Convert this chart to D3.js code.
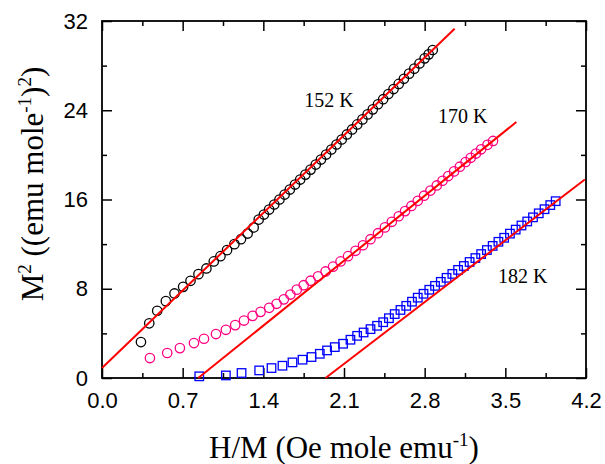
<!DOCTYPE html>
<html>
<head>
<meta charset="utf-8">
<script src="https://cdn.jsdelivr.net/npm/d3@7"></script>
<style>
  body { margin: 0; background: #fff; }
  svg { display: block; }
</style>
</head>
<body>
<div id="chart"></div>
<script>
// H/M values and M^2 values, one pair of arrays per temperature
const hm152 = [0.338, 0.41, 0.479, 0.554, 0.629, 0.704, 0.768, 0.837, 0.906, 0.970, 1.028, 1.085, 1.149, 1.206, 1.264, 1.316,
  1.36, 1.405, 1.45, 1.495, 1.54, 1.585, 1.63, 1.675, 1.72, 1.765, 1.81, 1.855, 1.9, 1.945, 1.99, 2.035, 2.08, 2.125,
  2.17, 2.215, 2.26, 2.305, 2.35, 2.395, 2.44, 2.485, 2.53, 2.575, 2.62, 2.665, 2.71, 2.755, 2.80, 2.835, 2.87];
const m2_152 = [3.22, 4.90, 6.03, 6.89, 7.58, 8.17, 8.71, 9.31, 9.82, 10.45, 10.92, 11.46, 12.00, 12.44, 12.95, 13.49,
  14.2, 14.65, 15.1, 15.55, 16.0, 16.44, 16.89, 17.34, 17.79, 18.23, 18.68, 19.13, 19.58, 20.03, 20.48, 20.93, 21.38, 21.83,
  22.28, 22.73, 23.18, 23.63, 24.08, 24.54, 24.99, 25.45, 25.9, 26.36, 26.82, 27.28, 27.73, 28.19, 28.65, 29.01, 29.4];

const hm170 = [0.416, 0.566, 0.676, 0.798, 0.885, 0.989, 1.075, 1.156, 1.232, 1.307, 1.376, 1.451, 1.515, 1.578, 1.635,
  1.69, 1.75, 1.81, 1.875, 1.94, 2.005, 2.07, 2.135, 2.2, 2.265, 2.33, 2.395, 2.455, 2.515, 2.575, 2.63, 2.685, 2.74,
  2.795, 2.85, 2.905, 2.955, 3.005, 3.055, 3.105, 3.155, 3.2, 3.245, 3.29, 3.345, 3.393];
const m2_170 = [1.79, 2.24, 2.68, 3.13, 3.52, 3.94, 4.32, 4.74, 5.15, 5.57, 5.93, 6.29, 6.65, 7.05, 7.48,
  7.92, 8.32, 8.72, 9.12, 9.55, 9.98, 10.45, 10.92, 11.4, 11.9, 12.44, 12.98, 13.5, 14.0, 14.5, 14.96, 15.42, 15.88,
  16.34, 16.8, 17.26, 17.68, 18.1, 18.52, 18.94, 19.36, 19.74, 20.12, 20.5, 20.9, 21.25];

const hm182 = [0.844, 1.075, 1.211, 1.364, 1.471, 1.566, 1.653, 1.74, 1.818, 1.89, 1.953, 2.02, 2.092, 2.156, 2.214, 2.27,
  2.33, 2.387, 2.44, 2.49, 2.54, 2.59, 2.64, 2.69, 2.74, 2.79, 2.84, 2.89, 2.94, 2.99, 3.04, 3.09, 3.14, 3.19, 3.24,
  3.29, 3.34, 3.39, 3.44, 3.49, 3.54, 3.59, 3.64, 3.69, 3.74, 3.79, 3.84, 3.89, 3.937];
const m2_182 = [0.15, 0.23, 0.45, 0.68, 0.89, 1.1, 1.4, 1.64, 1.88, 2.17, 2.47, 2.77, 3.07, 3.43, 3.78, 4.08,
  4.38, 4.68, 5.0, 5.36, 5.73, 6.1, 6.47, 6.84, 7.20, 7.55, 7.91, 8.26, 8.62, 8.98, 9.33, 9.69, 10.04, 10.40, 10.75,
  11.11, 11.47, 11.84, 12.21, 12.57, 12.94, 13.30, 13.67, 14.03, 14.40, 14.76, 15.13, 15.50, 15.85];

// linear fits: [start, end] points
const fitX152 = [0, 3.06], fitY152 = [0.89, 31.3];
const fitX170 = [0.835, 3.596], fitY170 = [0, 22.95];
const fitX182 = [1.94, 4.19], fitY182 = [0, 17.8];

const labels = ["152 K", "170 K", "182 K"];
const labelX = [1.97, 3.13, 3.65];
const labelY = [24.3, 22.9, 8.5];

const xTicks = [0.0, 0.7, 1.4, 2.1, 2.8, 3.5, 4.2];
const yTicks = [0, 8, 16, 24, 32];

const width = 605, height = 464;
const marginLeft = 102, marginRight = 19, marginTop = 21, marginBottom = 86;

const svg = d3.select("#chart").append("svg")
  .attr("width", width)
  .attr("height", height);

const x = d3.scaleLinear().domain([0, 4.2]).range([marginLeft, width - marginRight]);
const y = d3.scaleLinear().domain([0, 32]).range([height - marginBottom, marginTop]);

const tickFont = "'Liberation Sans', Arial, sans-serif";
const serif = "'Liberation Serif', 'Times New Roman', serif";

// minor ticks halfway between majors
const xMinor = d3.range(0.35, 4.2, 0.7);
const yMinor = d3.range(4, 32, 8);

function styleAxis(g) {
  g.select(".domain").remove();
  g.selectAll("line").attr("stroke", "#000").attr("stroke-width", 1.5);
  g.selectAll("text").attr("font-family", tickFont).attr("font-size", 22).attr("fill", "#000");
}

// bottom axis
svg.append("g")
  .attr("transform", `translate(0,${y(0)})`)
  .call(d3.axisBottom(x).tickValues(xTicks).tickFormat(d3.format(".1f")).tickSizeInner(-10).tickSizeOuter(0).tickPadding(14))
  .call(styleAxis);
svg.append("g")
  .attr("transform", `translate(0,${y(0)})`)
  .call(d3.axisBottom(x).tickValues(xMinor).tickFormat("").tickSizeInner(-5).tickSizeOuter(0))
  .call(styleAxis);
// top axis
svg.append("g")
  .attr("transform", `translate(0,${y(32)})`)
  .call(d3.axisTop(x).tickValues(xTicks).tickFormat("").tickSizeInner(-10).tickSizeOuter(0))
  .call(styleAxis);
svg.append("g")
  .attr("transform", `translate(0,${y(32)})`)
  .call(d3.axisTop(x).tickValues(xMinor).tickFormat("").tickSizeInner(-5).tickSizeOuter(0))
  .call(styleAxis);
// left axis
svg.append("g")
  .attr("transform", `translate(${x(0)},0)`)
  .call(d3.axisLeft(y).tickValues(yTicks).tickSizeInner(-10).tickSizeOuter(0).tickPadding(14))
  .call(styleAxis);
svg.append("g")
  .attr("transform", `translate(${x(0)},0)`)
  .call(d3.axisLeft(y).tickValues(yMinor).tickFormat("").tickSizeInner(-5).tickSizeOuter(0))
  .call(styleAxis);
// right axis
svg.append("g")
  .attr("transform", `translate(${x(4.2)},0)`)
  .call(d3.axisRight(y).tickValues(yTicks).tickFormat("").tickSizeInner(-10).tickSizeOuter(0))
  .call(styleAxis);
svg.append("g")
  .attr("transform", `translate(${x(4.2)},0)`)
  .call(d3.axisRight(y).tickValues(yMinor).tickFormat("").tickSizeInner(-5).tickSizeOuter(0))
  .call(styleAxis);

// frame
svg.append("rect")
  .attr("x", x(0)).attr("y", y(32))
  .attr("width", x(4.2) - x(0)).attr("height", y(0) - y(32))
  .attr("fill", "none").attr("stroke", "#000").attr("stroke-width", 1.8);

// data markers
function circles(xs, ys, color) {
  svg.append("g").selectAll("circle")
    .data(xs.map((d, i) => [d, ys[i]]))
    .join("circle")
    .attr("cx", d => x(d[0]))
    .attr("cy", d => y(d[1]))
    .attr("r", 4.7)
    .attr("fill", "none")
    .attr("stroke", color)
    .attr("stroke-width", 1.3);
}
circles(hm152, m2_152, "#000");
circles(hm170, m2_170, "#ff0080");

const sq = 8.5;
svg.append("g").selectAll("rect")
  .data(hm182.map((d, i) => [d, m2_182[i]]))
  .join("rect")
  .attr("x", d => x(d[0]) - sq / 2)
  .attr("y", d => y(d[1]) - sq / 2)
  .attr("width", sq)
  .attr("height", sq)
  .attr("fill", "none")
  .attr("stroke", "#0000ff")
  .attr("stroke-width", 1.3);

// fit lines
const line = d3.line().x(d => x(d[0])).y(d => y(d[1]));
[[fitX152, fitY152], [fitX170, fitY170], [fitX182, fitY182]].forEach(([fx, fy]) => {
  svg.append("path")
    .attr("d", line(fx.map((d, i) => [d, fy[i]])))
    .attr("fill", "none")
    .attr("stroke", "#ff0000")
    .attr("stroke-width", 2);
});

// temperature labels
svg.selectAll("text.temp")
  .data(labels)
  .join("text")
  .attr("class", "temp")
  .attr("x", (d, i) => x(labelX[i]))
  .attr("y", (d, i) => y(labelY[i]))
  .attr("text-anchor", "middle")
  .attr("font-family", serif)
  .attr("font-size", 20)
  .text(d => d);

// x axis title
const xt = svg.append("text")
  .attr("x", (x(0) + x(4.2)) / 2)
  .attr("y", 458)
  .attr("text-anchor", "middle")
  .attr("font-family", serif)
  .attr("font-size", 31);
xt.append("tspan").text("H/M (Oe mole emu");
xt.append("tspan").attr("dy", -12).attr("font-size", 19).text("-1");
xt.append("tspan").attr("dy", 12).text(")");

// y axis title
const yt = svg.append("text")
  .attr("transform", `translate(43,184) rotate(-90)`)
  .attr("text-anchor", "middle")
  .attr("font-family", serif)
  .attr("font-size", 31);
yt.append("tspan").text("M");
yt.append("tspan").attr("dy", -12).attr("font-size", 19).text("2");
yt.append("tspan").attr("dy", 12).text(" ((emu mole");
yt.append("tspan").attr("dy", -12).attr("font-size", 19).text("-1");
yt.append("tspan").attr("dy", 12).text(")");
yt.append("tspan").attr("dy", -12).attr("font-size", 19).text("2");
yt.append("tspan").attr("dy", 12).text(")");
</script>
</body>
</html>
